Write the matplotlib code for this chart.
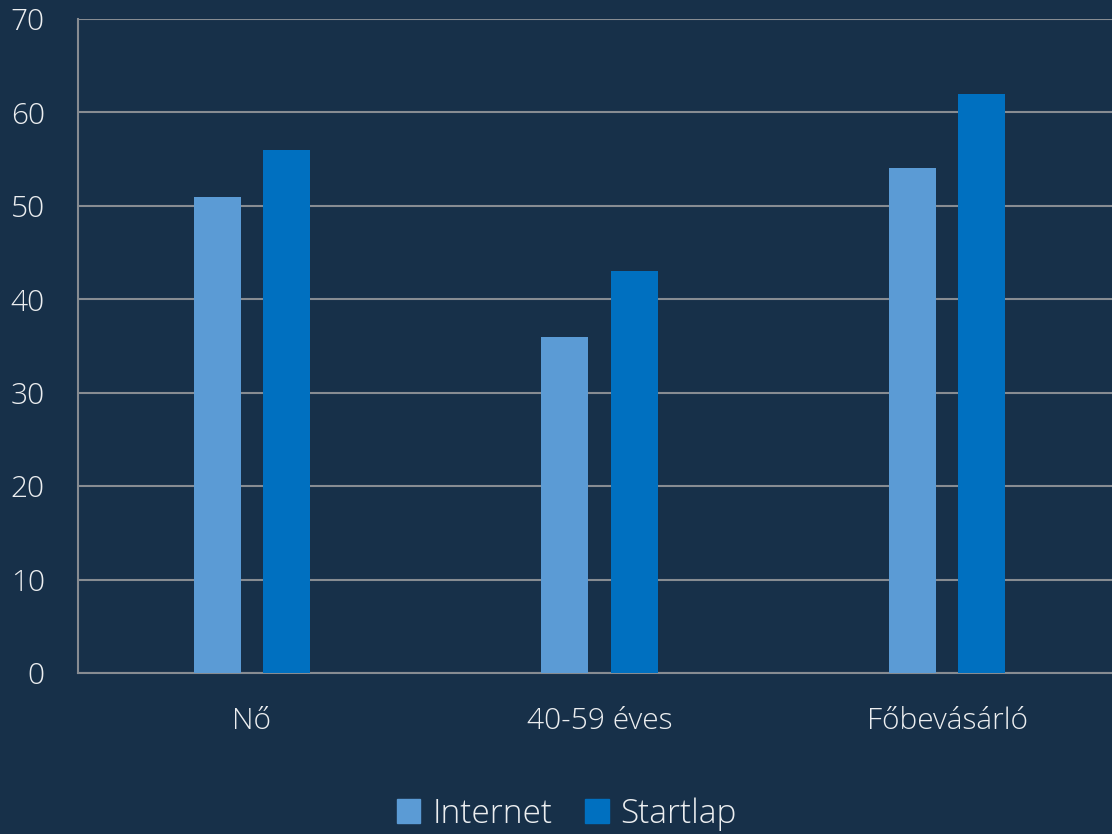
import numpy as np
import matplotlib.pyplot as plt
from matplotlib.patches import Patch

categories = ["Nő", "40-59 éves", "Főbevásárló"]
internet = [51, 36, 54]
startlap = [56, 43, 62]
series_names = ["Internet", "Startlap"]

bg = "#173049"
txt = "#ECEEF0"
grid = "#878C92"

plt.rcParams['font.family'] = ['Open Sans', 'DejaVu Sans']

fig = plt.figure(figsize=(11.12, 8.34), dpi=100, facecolor=bg)
ax = fig.add_axes([78 / 1112, 1 - 673 / 834, 1043 / 1112, 654 / 834])
ax.set_facecolor(bg)

x = np.arange(len(categories))
w = 0.135
off = 0.0995
ax.bar(x - off, internet, w, color="#5B9BD5", label=series_names[0], zorder=3)
ax.bar(x + off, startlap, w, color="#0070C0", label=series_names[1], zorder=3)

ax.set_xlim(-0.5, 2.5)
ax.set_ylim(0, 70)
ax.set_yticks(range(0, 71, 10))
ax.yaxis.grid(True, color=grid, linewidth=1.5, zorder=0)
ax.set_xticks(x)
ax.set_xticklabels(categories)

for s in ['top', 'right']:
    ax.spines[s].set_visible(False)
for s in ['left', 'bottom']:
    ax.spines[s].set_color(grid)
    ax.spines[s].set_linewidth(1.5)

ax.tick_params(axis='y', length=0, pad=24, labelsize=21.5, labelcolor=txt)
ax.tick_params(axis='x', length=0, pad=24, labelsize=21.5, labelcolor=txt)
for lab in ax.get_xticklabels() + ax.get_yticklabels():
    lab.set_fontweight('light')

handles = [Patch(color="#5B9BD5"), Patch(color="#0070C0")]
leg = fig.legend(handles, series_names, loc='center', bbox_to_anchor=(567 / 1112, 1 - 814 / 834),
                 ncol=2, frameon=False, fontsize=24, handlelength=0.7, handleheight=0.7,
                 handletextpad=0.35, columnspacing=1.0, labelcolor=txt)
for t in leg.get_texts():
    t.set_fontweight('light')

fig.savefig("out.png", dpi=100, facecolor=bg)
